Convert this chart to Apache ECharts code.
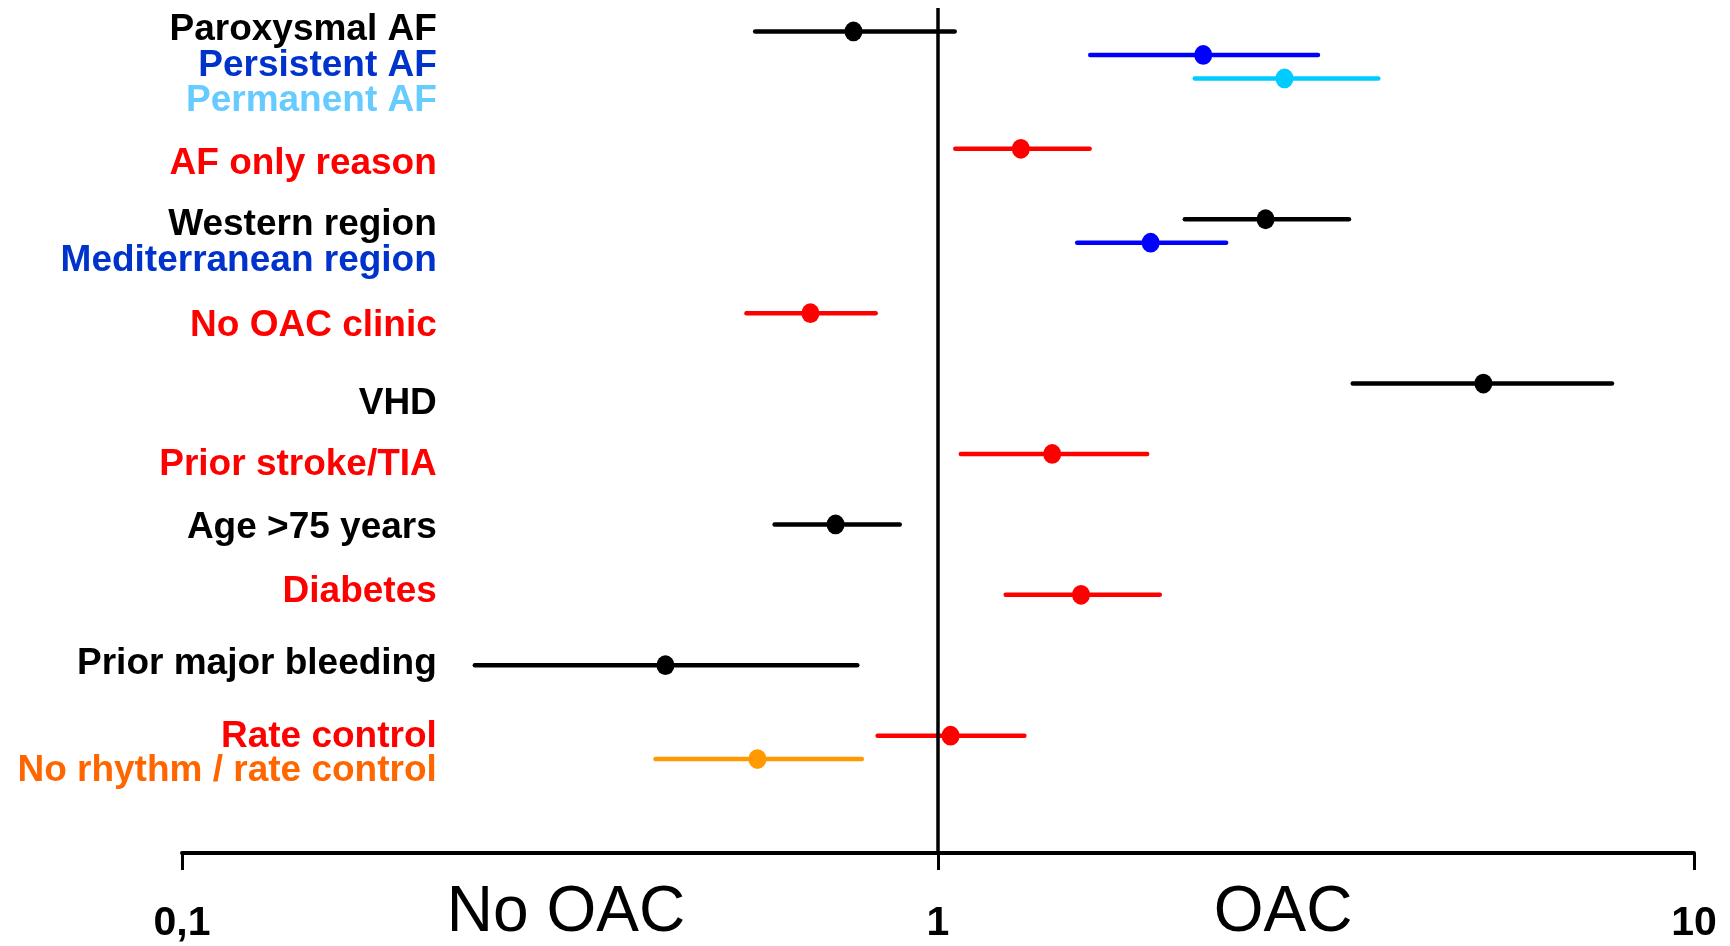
<!DOCTYPE html>
<html>
<head>
<meta charset="utf-8">
<script src="https://cdn.jsdelivr.net/npm/echarts@6/dist/echarts.min.js"></script>
<style>
  html, body { margin: 0; padding: 0; background: #ffffff; }
  #chart { width: 1730px; height: 946px; }
</style>
</head>
<body>
<div id="chart"></div>
<script>
// Factors associated with oral anticoagulation (odds ratio, 95% CI, log scale)
const factors = [
  'Paroxysmal AF', 'Persistent AF', 'Permanent AF', 'AF only reason',
  'Western region', 'Mediterranean region', 'No OAC clinic', 'VHD',
  'Prior stroke/TIA', 'Age >75 years', 'Diabetes', 'Prior major bleeding',
  'Rate control', 'No rhythm / rate control'
];
const oddsRatio = [0.773, 2.243, 2.873, 1.287, 2.712, 1.911, 0.678, 5.265, 1.416, 0.732, 1.546, 0.436, 1.039, 0.577];
const ciLow     = [0.573, 1.590, 2.186, 1.054, 2.121, 1.528, 0.558, 3.537, 1.072, 0.608, 1.229, 0.244, 0.832, 0.423];
const ciHigh    = [1.052, 3.181, 3.823, 1.587, 3.496, 2.405, 0.827, 7.789, 1.891, 0.890, 1.965, 0.782, 1.301, 0.793];

// Vertical row slots (grouped rows sit one slot apart, groups three apart)
const rowSlot   = [0, 1, 2, 5, 8, 9, 12, 15, 18, 21, 24, 27, 30, 31];
// Slots of the text labels (stacked labels keep a steady line spacing)
const labelSlot = [-0.07, 1.48, 2.97, 5.62, 8.22, 9.75, 12.52, 15.86, 18.44, 21.13, 23.89, 26.96, 30.03, 31.48];

const markColors  = ['#000000', '#0000ff', '#00ccff', '#ff0000', '#000000', '#0000ff', '#ff0000',
                     '#000000', '#ff0000', '#000000', '#ff0000', '#000000', '#ff0000', '#ff9900'];
const labelColors = ['#000000', '#0033cc', '#66ccff', '#ff0000', '#000000', '#0033cc', '#ff0000',
                     '#000000', '#ff0000', '#000000', '#ff0000', '#000000', '#ff0000', '#ff6600'];

const tickValues = [0.1, 1, 10];
const tickLabels = ['0,1', '1', '10'];
const sideLabels = ['No OAC', 'OAC'];

// x value at which the right-aligned factor labels end
const labelAnchor = 0.2173;

const FONT = '"Liberation Sans", Arial, Helvetica, sans-serif';

const chart = echarts.init(document.getElementById('chart'), null, { renderer: 'canvas' });

const ciData = factors.map((f, i) => [ciLow[i], oddsRatio[i], ciHigh[i], rowSlot[i]]);
const labelData = factors.map((f, i) => [labelAnchor, labelSlot[i]]);

function tickText(v) {
  let best = 0, bestD = Infinity;
  tickValues.forEach((t, k) => {
    const d = Math.abs(Math.log10(v) - Math.log10(t));
    if (d < bestD) { bestD = d; best = k; }
  });
  return tickLabels[best];
}

chart.setOption({
  backgroundColor: '#ffffff',
  animation: false,
  grid: { left: 182, right: 36, top: 8, bottom: 93, containLabel: false },
  xAxis: {
    type: 'log',
    logBase: 10,
    min: 0.1,
    max: 10,
    position: 'bottom',
    axisLine: { show: true, onZero: false, lineStyle: { color: '#000000', width: 4 } },
    axisTick: { show: true, length: 17, lineStyle: { color: '#000000', width: 3 } },
    minorTick: { show: false },
    splitLine: { show: false },
    axisLabel: {
      formatter: tickText,
      color: '#000000',
      fontSize: 41,
      fontWeight: 'bold',
      fontFamily: FONT,
      margin: 50
    }
  },
  yAxis: {
    type: 'value',
    min: -1,
    max: 35,
    inverse: true,
    show: false
  },
  series: [
    {
      type: 'custom',
      name: 'CI',
      data: ciData,
      encode: { x: [0, 1, 2], y: 3 },
      renderItem: function (params, api) {
        const i = params.dataIndex;
        const y = api.value(3);
        const p0 = api.coord([api.value(0), y]);
        const pm = api.coord([api.value(1), y]);
        const p1 = api.coord([api.value(2), y]);
        const c = markColors[i];
        return {
          type: 'group',
          children: [
            {
              type: 'line',
              shape: { x1: p0[0], y1: p0[1], x2: p1[0], y2: p1[1] },
              style: { stroke: c, lineWidth: 4.5, lineCap: 'round' }
            },
            {
              type: 'circle',
              x: pm[0], y: pm[1],
              scaleY: 1.1,
              shape: { cx: 0, cy: 0, r: 9 },
              style: { fill: c }
            }
          ]
        };
      },
      markLine: {
        silent: true,
        symbol: ['none', 'none'],
        label: { show: false },
        lineStyle: { color: '#000000', width: 3.5, type: 'solid', opacity: 1 },
        emphasis: { disabled: true },
        data: [{ xAxis: 1 }]
      },
      z: 3
    },
    {
      type: 'custom',
      name: 'labels',
      silent: true,
      data: labelData,
      encode: { x: 0, y: 1 },
      renderItem: function (params, api) {
        const i = params.dataIndex;
        const p = api.coord([api.value(0), api.value(1)]);
        return {
          type: 'text',
          x: p[0], y: p[1],
          style: {
            text: factors[i],
            fill: labelColors[i],
            opacity: 1,
            font: 'bold 37px ' + FONT,
            align: 'right',
            verticalAlign: 'middle'
          }
        };
      },
      z: 4
    }
  ],
  graphic: [
    {
      type: 'text',
      x: 566, y: 913,
      style: {
        text: sideLabels[0], fill: '#000000',
        font: 'normal 64px ' + FONT,
        align: 'center', verticalAlign: 'middle'
      }
    },
    {
      type: 'text',
      x: 1283, y: 913,
      style: {
        text: sideLabels[1], fill: '#000000',
        font: 'normal 64px ' + FONT,
        align: 'center', verticalAlign: 'middle'
      }
    }
  ]
});
</script>
</body>
</html>
